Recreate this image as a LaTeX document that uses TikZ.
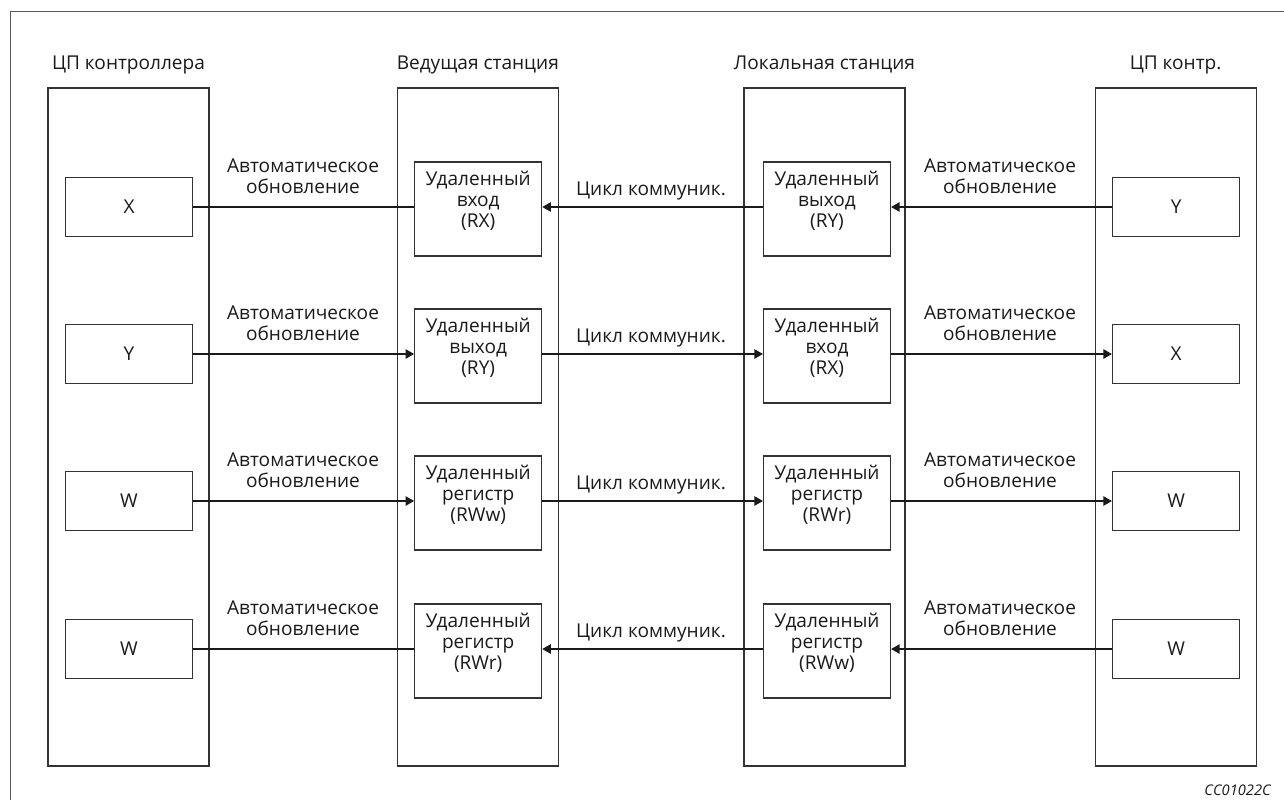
\documentclass[tikz,border=0pt]{standalone}
\usepackage{fontspec}
\setmainfont{Open Sans}
\usetikzlibrary{arrows.meta}
\definecolor{bx}{HTML}{333333}
\definecolor{ln}{HTML}{1A1A1A}
\definecolor{fr}{HTML}{5A5A5A}
\definecolor{tx}{HTML}{1A1A1A}
\newcommand{\mlt}[1]{\begin{tabular}[t]{@{}c@{}}#1\end{tabular}}
\newcommand{\mlb}[1]{\begin{tabular}[b]{@{}c@{}}#1\end{tabular}}
\begin{document}
\begin{tikzpicture}[x=0.75pt,y=-0.75pt,
  every node/.style={font=\fontsize{14.3}{15.75}\selectfont, text=tx},
  colbox/.style={draw=bx, line width=0.8pt, minimum width=120.75pt, minimum height=508.5pt, inner sep=0pt},
  smallbox/.style={draw=bx, line width=0.8pt, minimum width=95.6pt, minimum height=44.25pt, inner sep=0pt},
  regbox/.style={draw=bx, line width=0.8pt, minimum width=95.25pt, minimum height=70.5pt, inner sep=0pt},
  lbl/.style={anchor=base, inner sep=0pt},
  conn/.style={draw=ln, line width=1.35pt},
  arr/.style={conn, -{Triangle[length=6.5pt,width=7pt]}},
]
\useasboundingbox (0,0) rectangle (1284,800);
% frame
\coordinate (f1) at (1284,11);
\coordinate (f2) at (10,11);
\coordinate (f3) at (10,800);
\draw[fr, line width=0.75pt] (f1) -- (f2) -- (f3);

% columns
\node[colbox] (c1) at (128.5,427) {};
\node[colbox] (c2) at (477.8,427) {};
\node[colbox] (c3) at (824.5,427) {};
\node[colbox] (c4) at (1175.6,427) {};
\node[lbl] (t1) at (128.5,69) {ЦП контроллера};
\node[lbl] (t2) at (477.8,69) {Ведущая станция};
\node[lbl] (t3) at (824.5,69) {Локальная станция};
\node[lbl] (t4) at (1175.6,69) {ЦП контр.};

% row 1 (y=207)
\node[smallbox] (s11) at (129,207) {X};
\node[regbox] (r12) at (478.2,209) {};
\node[regbox] (r13) at (827,209) {};
\node[smallbox] (s14) at (1176.2,207) {Y};
\node[lbl] (x12) at (478.2,185) {\mlt{Удаленный\\вход\\(RX)}};
\node[lbl] (x13) at (827,185) {\mlt{Удаленный\\выход\\(RY)}};
\node[lbl] (a11) at (303,193) {\mlb{Автоматическое\\обновление}};
\node[lbl] (a13) at (651,195) {Цикл коммуник.};
\node[lbl] (a14) at (1000,193) {\mlb{Автоматическое\\обновление}};
\draw[conn] (s11.east) -- (s11.east -| r12.west);
\draw[arr] (r13.west |- s11.east) -- (r12.east |- s11.east);
\draw[arr] (s14.west) -- (s14.west -| r13.east);

% row 2 (y=354)
\node[smallbox] (s21) at (129,354) {Y};
\node[regbox] (r22) at (478.2,356) {};
\node[regbox] (r23) at (827,356) {};
\node[smallbox] (s24) at (1176.2,354) {X};
\node[lbl] (x22) at (478.2,332) {\mlt{Удаленный\\выход\\(RY)}};
\node[lbl] (x23) at (827,332) {\mlt{Удаленный\\вход\\(RX)}};
\node[lbl] (a21) at (303,340) {\mlb{Автоматическое\\обновление}};
\node[lbl] (a23) at (651,342) {Цикл коммуник.};
\node[lbl] (a24) at (1000,340) {\mlb{Автоматическое\\обновление}};
\draw[arr] (s21.east) -- (s21.east -| r22.west);
\draw[arr] (r22.east |- s21.east) -- (r23.west |- s21.east);
\draw[arr] (r23.east |- s21.east) -- (s24.west);

% row 3 (y=501)
\node[smallbox] (s31) at (129,501) {W};
\node[regbox] (r32) at (478.2,503) {};
\node[regbox] (r33) at (827,503) {};
\node[smallbox] (s34) at (1176.2,501) {W};
\node[lbl] (x32) at (478.2,479) {\mlt{Удаленный\\регистр\\(RWw)}};
\node[lbl] (x33) at (827,479) {\mlt{Удаленный\\регистр\\(RWr)}};
\node[lbl] (a31) at (303,487) {\mlb{Автоматическое\\обновление}};
\node[lbl] (a33) at (651,489) {Цикл коммуник.};
\node[lbl] (a34) at (1000,487) {\mlb{Автоматическое\\обновление}};
\draw[arr] (s31.east) -- (s31.east -| r32.west);
\draw[arr] (r32.east |- s31.east) -- (r33.west |- s31.east);
\draw[arr] (r33.east |- s31.east) -- (s34.west);

% row 4 (y=649)
\node[smallbox] (s41) at (129,649) {W};
\node[regbox] (r42) at (478.2,651) {};
\node[regbox] (r43) at (827,651) {};
\node[smallbox] (s44) at (1176.2,649) {W};
\node[lbl] (x42) at (478.2,627) {\mlt{Удаленный\\регистр\\(RWr)}};
\node[lbl] (x43) at (827,627) {\mlt{Удаленный\\регистр\\(RWw)}};
\node[lbl] (a41) at (303,635) {\mlb{Автоматическое\\обновление}};
\node[lbl] (a43) at (651,637) {Цикл коммуник.};
\node[lbl] (a44) at (1000,635) {\mlb{Автоматическое\\обновление}};
\draw[conn] (s41.east) -- (s41.east -| r42.west);
\draw[arr] (r43.west |- s41.east) -- (r42.east |- s41.east);
\draw[arr] (s44.west) -- (s44.west -| r43.east);

% code
\node[anchor=base east, inner sep=0pt, font=\fontsize{11}{13}\selectfont\itshape] (code) at (1271,795) {CC01022C};
\end{tikzpicture}
\end{document}
